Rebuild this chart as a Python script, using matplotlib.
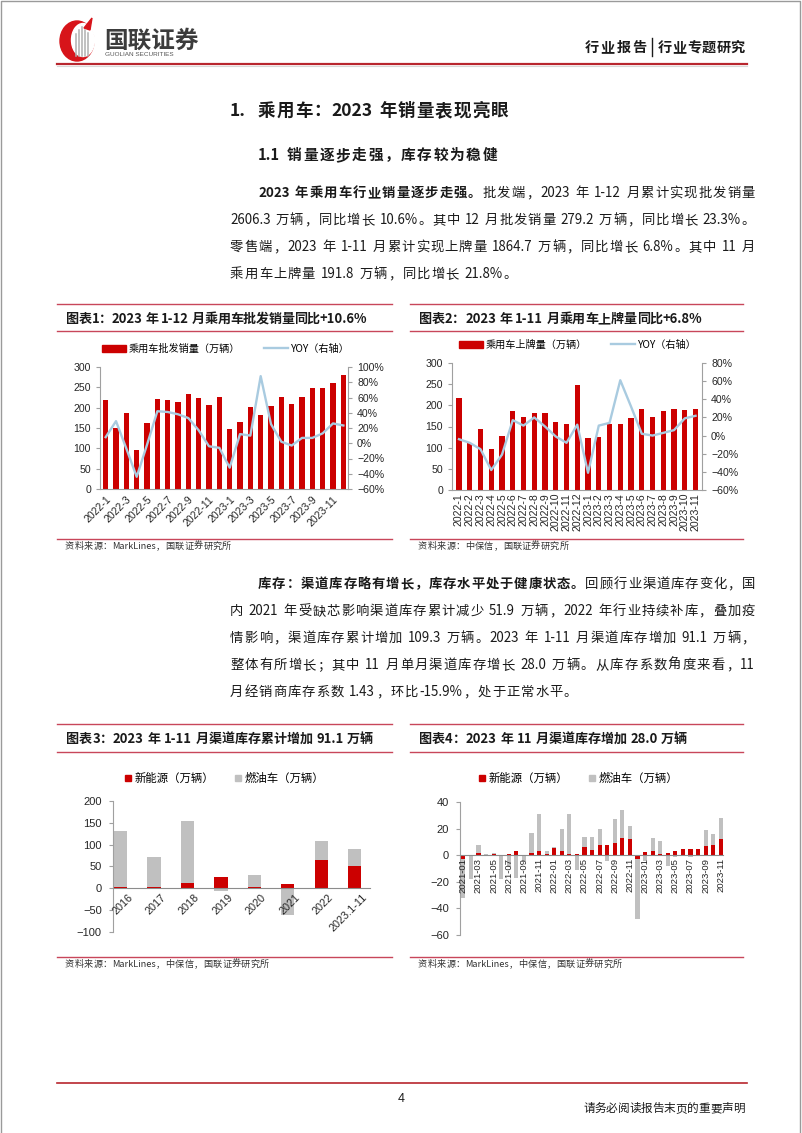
import numpy as np
import matplotlib
matplotlib.use('Agg')
import matplotlib.pyplot as plt
from matplotlib.patches import Ellipse, Rectangle, Polygon
from matplotlib.lines import Line2D
from matplotlib.ticker import FuncFormatter

plt.rcParams['font.family'] = ['Noto Sans CJK SC', 'DejaVu Sans']

# ---------------- data ----------------
months1 = ['2022-1', '2022-2', '2022-3', '2022-4', '2022-5', '2022-6', '2022-7', '2022-8',
           '2022-9', '2022-10', '2022-11', '2022-12', '2023-1', '2023-2', '2023-3', '2023-4',
           '2023-5', '2023-6', '2023-7', '2023-8', '2023-9', '2023-10', '2023-11', '2023-12']
sales1 = [218, 149, 186, 96, 162, 222, 218, 213, 233, 223, 207, 227,
          147, 165, 202, 181, 204, 227, 210, 227, 249, 249, 261, 279.2]
yoy1 = [8, 29, -7, -44, -2, 42, 41, 38, 33, 17, -4, -6,
        -32, 12, 10, 88, 25, 2, -3, 7, 7, 13, 26, 23.3]

months2 = months1[:23]
reg2 = [218, 110, 143, 97, 128, 187, 173, 183, 181, 161, 157, 247,
        124, 125, 155, 155, 170, 191, 173, 187, 191, 190, 191.8]
yoy2 = [-4, -8, -15, -38, -21, 17, 11, 20, 10, -1, -8, 12,
        -41, 11, 14, 61, 32, 2, 0, 3, 6, 19, 21.8]

years3 = ['2016', '2017', '2018', '2019', '2020', '2021', '2022', '2023.1-11']
nev3 = [3, 4, 13, 25, 2, 9, 65, 51]
ice3 = [129, 67, 142, -7, 28, -61, 44, 40]

months4 = [f'{y}-{m:02d}' for y in (2021, 2022, 2023) for m in range(1, 13)][:35]
nev4 = [-3, 0.3, 2, 0.5, 1, 0.5, 1, 3.5, 0.5, 2, 3, 1,
        5.5, 3, 1, 1, 6, 4, 8, 8, 9, 13, 12, -2.5,
        2.5, 3, 1, 2, 3, 4.5, 4.5, 4.5, 7, 8, 12]
ice4 = [-29, -18, 6, 0.5, 1, -18, -9, -17, -4, 15, 28, 2,
        0.5, 17, 30, -11, 8, 10, 11.5, -4, 18, 21, 10, -45.5,
        -4, 10, 10, -8, -1.5, 0.3, -1, 0.5, 12, 8, 16]

RED = '#cc0000'
BLUE = '#a9cbe0'
GRAY = '#c0c0c0'
LINE = '#c8465a'
TXT = '#1a1a1a'
NUM = ['Liberation Sans', 'Noto Sans CJK SC']

W, H = 802, 1133
fig = plt.figure(figsize=(W / 100, H / 100), dpi=100)
bg = fig.add_axes([0, 0, 1, 1])
bg.set_xlim(0, W)
bg.set_ylim(H, 0)
bg.axis('off')
rend = fig.canvas.get_renderer()


def axes_px(l, t, r, b):
    return fig.add_axes([l / W, 1 - b / H, (r - l) / W, (b - t) / H])


def text_line(segs, x0, yb, x1=None, size=9.6, gap=0.8, color=TXT):
    # split into tokens: ascii runs, single CJK chars, spaces
    items = []
    for s, bold in segs:
        buf = ''
        for ch in s:
            if ch.isascii() and ch != ' ':
                buf += ch
                continue
            if buf:
                items.append((buf, bold))
                buf = ''
            items.append((ch, bold))
        if buf:
            items.append((buf, bold))
    arts, widths = [], []
    for tok, bold in items:
        if tok == ' ':
            arts.append(None)
            widths.append(size * 0.35)
        else:
            t = bg.text(x0, yb, tok, fontsize=size, fontweight='bold' if bold else 'normal',
                        color=color, va='baseline', ha='left')
            arts.append(t)
            widths.append(t.get_window_extent(rend).width)
    if x1 is not None:
        gap = (x1 - x0 - sum(widths)) / (len(items) - 1)
    x = x0
    for t, w in zip(arts, widths):
        if t is not None:
            t.set_x(x)
        x += w + gap


# ---------------- page frame / header ----------------
bg.plot([0.5, 0.5, 799.5, 799.5], [H, 0.5, 0.5, H], color='#9a9a9a', lw=1)

bg.add_patch(Ellipse((77, 41), 34, 40, color='#d7141a'))
bg.add_patch(Ellipse((83, 40), 23, 33, color='white'))
for xx, top in [(76, 34), (79, 30), (82, 27), (85, 30), (88, 33)]:
    bg.plot([xx, xx], [top, 56], color='#b0b0b0', lw=1.1)
bg.add_patch(Polygon([[84, 28], [92, 18], [90, 30]], color='#d7141a'))
bg.text(104, 41, '国联证券', fontsize=17, fontweight='bold', color='#3c3c3c', va='center')
bg.text(105, 55, 'GUOLIAN SECURITIES', fontsize=4.6, color='#555555', va='center',
        family='Liberation Sans')
text_line([('行业报告', True)], 585, 52, x1=646, size=10.2)
bg.plot([652, 652], [38, 56], color=TXT, lw=1)
text_line([('行业专题研究', True)], 658, 52, x1=745, size=10.2)
bg.plot([57, 747], [63.5, 63.5], color='#b8262e', lw=1.6)
bg.plot([57, 747], [65.5, 65.5], color='#d8d8d8', lw=0.8)

# ---------------- headings and body ----------------
text_line([('1.  乘用车：2023 年销量表现亮眼', True)], 230, 116, x1=508, size=12.6)
text_line([('1.1 销量逐步走强，库存较为稳健', True)], 258, 160, x1=497, size=10.6)

text_line([('2023 年乘用车行业销量逐步走强。', True), ('批发端，2023 年 1-12 月累计实现批发销量', False)],
          258, 197, x1=755)
text_line([('2606.3 万辆，同比增长 10.6%。其中 12 月批发销量 279.2 万辆，同比增长 23.3%。', False)],
          230, 224, x1=755)
text_line([('零售端，2023 年 1-11 月累计实现上牌量 1864.7 万辆，同比增长 6.8%。其中 11 月', False)],
          230, 251, x1=755)
text_line([('乘用车上牌量 191.8 万辆，同比增长 21.8%。', False)], 230, 278, gap=1.0)

text_line([('库存：渠道库存略有增长，库存水平处于健康状态。', True), ('回顾行业渠道库存变化，国', False)],
          258, 588, x1=755)
text_line([('内 2021 年受缺芯影响渠道库存累计减少 51.9 万辆，2022 年行业持续补库，叠加疫', False)],
          230, 615, x1=755)
text_line([('情影响，渠道库存累计增加 109.3 万辆。2023 年 1-11 月渠道库存增加 91.1 万辆，', False)],
          230, 642, x1=755)
text_line([('整体有所增长；其中 11 月单月渠道库存增长 28.0 万辆。从库存系数角度来看，11', False)],
          230, 669, x1=755)
text_line([('月经销商库存系数 1.43，环比-15.9%，处于正常水平。', False)], 230, 696, gap=1.0)


# ---------------- chart boxes ----------------
def box(x0, x1, top, mid, bottom, title, tx1, source):
    for yy in (top, mid, bottom):
        bg.plot([x0, x1], [yy, yy], color=LINE, lw=1)
    text_line([(title, True)], x0 + 9, top + 19, x1=tx1, size=9.4)
    text_line([(source, False)], x0 + 8, bottom + 10, size=6.6, gap=0.3, color='#333333')


box(57, 392, 304, 331, 539, '图表1：2023 年 1-12 月乘用车批发销量同比+10.6%', 367, '资料来源：MarkLines，国联证券研究所')
box(410, 743, 304, 331, 539, '图表2：2023 年 1-11 月乘用车上牌量同比+6.8%', 702, '资料来源：中保信，国联证券研究所')
box(57, 392, 724, 752, 957, '图表3：2023 年 1-11 月渠道库存累计增加 91.1 万辆', 373, '资料来源：MarkLines，中保信，国联证券研究所')
box(410, 743, 724, 752, 957, '图表4：2023 年 11 月渠道库存增加 28.0 万辆', 687, '资料来源：MarkLines，中保信，国联证券研究所')


def style(ax, left=True, right=False, ysize=7.6):
    for s in ax.spines.values():
        s.set_color('#a0a0a0')
        s.set_linewidth(0.8)
    ax.spines['top'].set_visible(False)
    ax.spines['right'].set_visible(right)
    ax.spines['left'].set_visible(left)
    ax.tick_params(axis='y', colors='#a0a0a0', labelcolor='#262626', length=3, width=0.8, labelsize=ysize)
    ax.tick_params(axis='x', length=0, labelcolor='#262626')
    ax.set_facecolor('none')
    for lab in ax.get_yticklabels():
        lab.set_family(NUM)


pct = FuncFormatter(lambda v, p: f'{v:.0f}%'.replace('-', '\u2212'))
num = FuncFormatter(lambda v, p: f'{v:.0f}'.replace('-', '\u2212'))


def bar_line_chart(rect, months, vals, yoy, xlim, ylim_r, every, rot, bar_label, leg_xy):
    ax = axes_px(*rect)
    x = np.arange(len(months))
    ax.bar(x, vals, width=0.5, color=RED, zorder=2)
    ax.set_xlim(*xlim)
    ax.set_ylim(0, 300)
    ax.set_yticks(range(0, 301, 50))
    ax.yaxis.set_major_formatter(num)
    ax.set_xticks(x[::every])
    if rot == 45:
        ax.set_xticklabels(months[::every], rotation=45, ha='right', rotation_mode='anchor',
                           family=NUM, fontsize=7.6)
        ax.tick_params(axis='x', pad=4)
    else:
        ax.set_xticklabels(months[::every], rotation=90, ha='center', va='top',
                           family=NUM, fontsize=7.6)
        ax.tick_params(axis='x', pad=2)
    style(ax)
    axr = ax.twinx()
    axr.plot(x, yoy, color=BLUE, lw=1.7)
    axr.set_ylim(*ylim_r)
    axr.set_yticks(range(ylim_r[0], ylim_r[1] + 1, 20))
    axr.yaxis.set_major_formatter(pct)
    style(axr, left=False, right=True)
    axr.spines['bottom'].set_visible(False)
    handles = [Rectangle((0, 0), 1, 1, color=RED), Line2D([], [], color=BLUE, lw=1.7)]
    fig.legend(handles, [bar_label, 'YOY（右轴）'], loc='center',
               bbox_to_anchor=(leg_xy[0] / W, 1 - leg_xy[1] / H), ncol=2, frameon=False,
               fontsize=7.3, handlelength=2.3, handleheight=0.8, handletextpad=0.3,
               columnspacing=2.4)


bar_line_chart((100, 367, 348, 489), months1, sales1, yoy1, (-0.55, 23.45), (-60, 100), 2, 45,
               '乘用车批发销量（万辆）', (226, 349))
bar_line_chart((452, 363, 702, 490), months2, reg2, yoy2, (-0.65, 22.6), (-60, 80), 1, 90,
               '乘用车上牌量（万辆）', (578, 345))


def stacked_chart(rect, cats, nev, ice, xlim, ylim, step, width, every, rot, fs, leg_xy):
    ax = axes_px(*rect)
    x = np.arange(len(cats))
    nev = np.array(nev, dtype=float)
    ice = np.array(ice, dtype=float)
    bottom = np.where(np.sign(ice) == np.sign(nev), nev, 0)
    ax.bar(x, nev, width=width, color=RED, zorder=2)
    ax.bar(x, ice, bottom=bottom, width=width, color=GRAY, zorder=2)
    ax.set_xlim(*xlim)
    ax.set_ylim(*ylim)
    ax.set_yticks(range(ylim[0], ylim[1] + 1, step))
    ax.yaxis.set_major_formatter(num)
    ax.spines['bottom'].set_position(('data', 0))
    ax.set_xticks(x[::every])
    if rot == 45:
        # labels drawn by hand so they can sit a little right of the bar centre
        ax.set_xticklabels([])
        for xi, lab in zip(x[::every], cats[::every]):
            ax.annotate(lab, xy=(xi, 0), xytext=(5, -3), textcoords='offset points',
                        rotation=45, ha='right', va='top', rotation_mode='anchor',
                        family=NUM, fontsize=fs, color='#262626', zorder=4,
                        annotation_clip=False)
    else:
        ax.set_xticklabels(cats[::every], rotation=90, ha='center', va='top',
                           family=NUM, fontsize=fs)
        ax.tick_params(axis='x', pad=2)
    style(ax, ysize=8)
    ax.tick_params(axis='y', pad=5)
    ax.set_axisbelow(False)
    ax.xaxis.set_zorder(3)
    ax.spines['bottom'].set_color('#8c8c8c')
    handles = [Line2D([], [], marker='s', ls='', color=RED, markersize=5),
               Line2D([], [], marker='s', ls='', color=GRAY, markersize=5)]
    fig.legend(handles, ['新能源（万辆）', '燃油车（万辆）'], loc='center',
               bbox_to_anchor=(leg_xy[0] / W, 1 - leg_xy[1] / H), ncol=2, frameon=False,
               fontsize=8.2, handlelength=0.7, handletextpad=0.2, columnspacing=1.8)


stacked_chart((113, 801, 370, 932), years3, nev3, ice3, (-0.23, 7.46), (-100, 200), 50, 0.4, 1, 45, 7.8,
              (224, 778))
stacked_chart((460, 802, 723, 935), months4, nev4, ice4, (-0.44, 34.3), (-60, 40), 20, 0.55, 2, 90, 6.8,
              (578, 778))

# ---------------- footer ----------------
bg.plot([57, 747], [1083, 1083], color='#b8262e', lw=1.2)
bg.text(401, 1099, '4', fontsize=9, color=TXT, ha='center', va='center', family=NUM)
text_line([('请务必阅读报告末页的重要声明', False)], 583, 1112, x1=745, size=8.4)

fig.savefig('out.png', dpi=100)
